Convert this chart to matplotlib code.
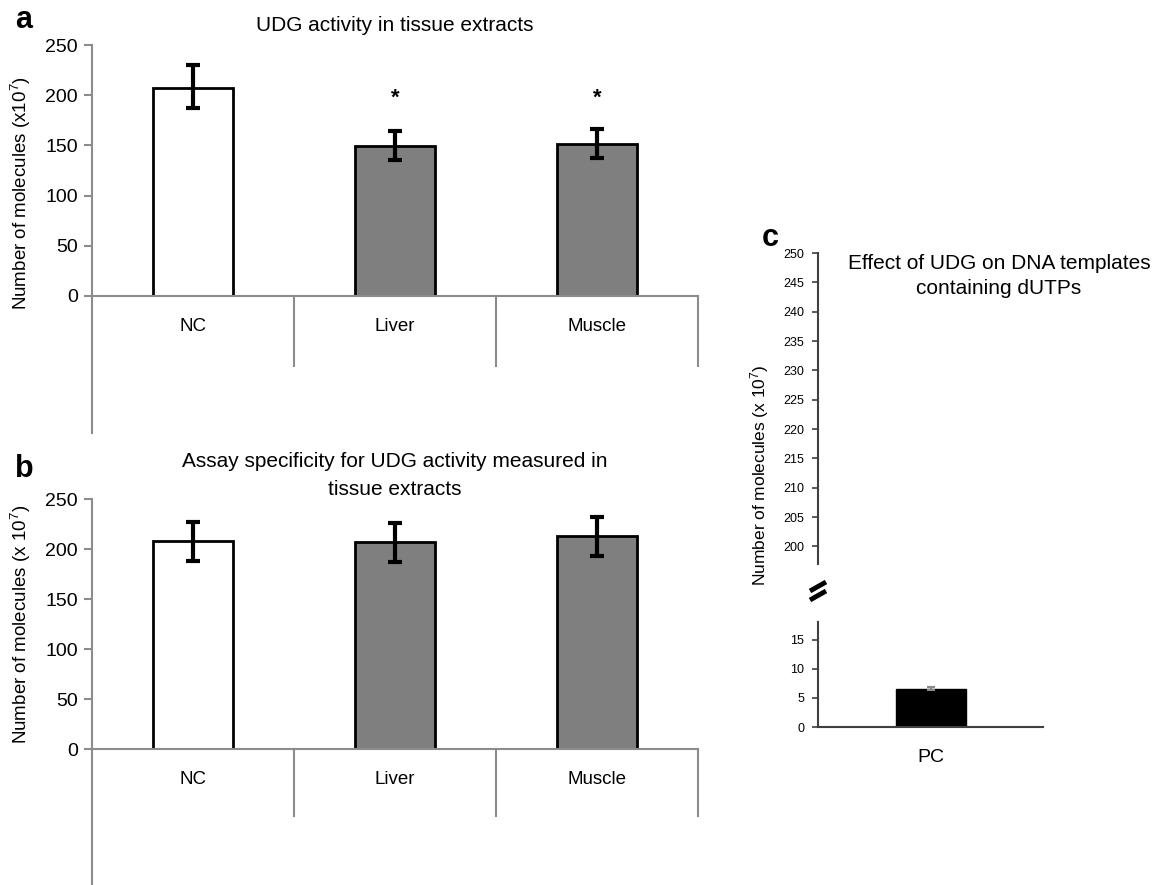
import numpy as np
import matplotlib
matplotlib.use('Agg')
import matplotlib.pyplot as plt
from matplotlib.lines import Line2D

plt.rcParams['font.family'] = ['Liberation Sans', 'DejaVu Sans']
plt.rcParams['mathtext.default'] = 'regular'

categories = ['NC', 'Liver', 'Muscle']

# panel a
a_values = [207, 149.5, 151.5]
a_err_low = [187, 135, 137]
a_err_high = [230, 164.5, 166.5]
a_signif = [False, True, True]

# panel b
b_values = [208, 207.5, 213.5]
b_err_low = [188, 187.5, 193]
b_err_high = [227, 226.5, 232]

# panel c
c_categories = ['PC']
c_values = [6.6]
c_err = [0.3]
c_upper_ticks = list(range(200, 251, 5))
c_lower_ticks = [0, 5, 10, 15]

bar_colors = ['white', '#7f7f7f', '#7f7f7f']
axis_grey = '#8c8c8c'

W, H = 1155, 885
fig = plt.figure(figsize=(W / 100, H / 100), dpi=100)


def px_axes(left, top, right, bottom):
    return fig.add_axes([left / W, 1 - bottom / H, (right - left) / W, (bottom - top) / H])


def category_panel(ax, values, lo, hi, div_drop, left_drop, ylabel, label_y):
    x = np.arange(len(categories))
    lo = np.array(values) - np.array(lo)
    hi = np.array(hi) - np.array(values)
    ax.bar(x, values, width=0.4, color=bar_colors, edgecolor='black', linewidth=2, zorder=2)
    ax.errorbar(x, values, yerr=[lo, hi], fmt='none', ecolor='black', elinewidth=3,
                capsize=5, capthick=3, zorder=3)
    ax.set_xlim(-0.5, len(categories) - 0.5)
    ax.set_ylim(0, 250)
    ax.set_yticks(range(0, 251, 50))
    ax.set_xticks(x)
    ax.set_xticklabels(categories, fontsize=13.5)
    ax.tick_params(axis='x', length=0, pad=16)
    ax.tick_params(axis='y', direction='out', length=6, width=1.5, color=axis_grey,
                   labelsize=14, pad=4)
    for s in ['top', 'right']:
        ax.spines[s].set_visible(False)
    for s in ['left', 'bottom']:
        ax.spines[s].set_color(axis_grey)
        ax.spines[s].set_linewidth(1.5)
    trans = ax.get_xaxis_transform()
    for b in np.arange(0.5, len(categories), 1.0):
        ax.add_line(Line2D([b, b], [0, -div_drop], transform=trans, color=axis_grey,
                           lw=1.5, clip_on=False))
    ax.add_line(Line2D([-0.5, -0.5], [0, -left_drop], transform=trans, color=axis_grey,
                       lw=1.5, clip_on=False))
    ax.set_ylabel(ylabel, fontsize=13.5)
    ax.yaxis.set_label_coords(-0.097, label_y)


# panel a
ax_a = px_axes(92, 45, 698, 296)
category_panel(ax_a, a_values, a_err_low, a_err_high, 70 / 251, 137 / 251,
               'Number of molecules (x10$^{7}$)', 0.41)
ax_a.set_title('UDG activity in tissue extracts', fontsize=15, pad=10)
for i, s in enumerate(a_signif):
    if s:
        ax_a.text(i, 197, '*', ha='center', va='center', fontsize=16, fontweight='bold')
fig.text(15 / W, 1 - 20 / H, 'a', fontsize=22, fontweight='bold', va='center')

# panel b
ax_b = px_axes(92, 499, 698, 749)
category_panel(ax_b, b_values, b_err_low, b_err_high, 67 / 250, 140 / 250,
               'Number of molecules (x 10$^{7}$)', 0.5)
ax_b.set_title('Assay specificity for UDG activity measured in\ntissue extracts',
               fontsize=15, pad=3, linespacing=1.6)
fig.text(15 / W, 1 - 469 / H, 'b', fontsize=22, fontweight='bold', va='center')

# panel c
c_dark = '#404040'
ax_cu = px_axes(818, 253, 1043, 564)
ax_cu.set_ylim(197, 250)
ax_cu.set_yticks(c_upper_ticks)
ax_cu.set_xticks([])
for s in ['top', 'right', 'bottom']:
    ax_cu.spines[s].set_visible(False)
ax_cu.spines['left'].set_color(c_dark)
ax_cu.spines['left'].set_linewidth(1.5)
ax_cu.tick_params(axis='y', direction='out', length=4, width=1.2, color=c_dark,
                  labelsize=9, pad=6)

ax_cl = px_axes(818, 622, 1043, 727)
xc = np.arange(len(c_categories))
ax_cl.bar(xc, c_values, width=0.62, color='black', edgecolor='black', zorder=2)
ax_cl.errorbar(xc, c_values, yerr=c_err, fmt='none', ecolor='#888888', elinewidth=1.5,
               capsize=3, capthick=1.5, zorder=3)
ax_cl.set_xlim(-1.0, 0.99)
ax_cl.set_ylim(0, 18.1)
ax_cl.set_yticks(c_lower_ticks)
ax_cl.set_xticks(xc)
ax_cl.set_xticklabels(c_categories, fontsize=14)
ax_cl.tick_params(axis='x', length=0, pad=16)
ax_cl.tick_params(axis='y', direction='out', length=4, width=1.2, color=c_dark,
                  labelsize=9, pad=6)
for s in ['top', 'right']:
    ax_cl.spines[s].set_visible(False)
for s in ['left', 'bottom']:
    ax_cl.spines[s].set_color(c_dark)
    ax_cl.spines[s].set_linewidth(1.5)

# break marks
for dy in (0, 9):
    fig.add_artist(Line2D([810 / W, 826 / W], [1 - (591 + dy) / H, 1 - (582 + dy) / H],
                          color='black', lw=3.5, solid_capstyle='butt'))

fig.text(999 / W, 1 - 276 / H, 'Effect of UDG on DNA templates\ncontaining dUTPs',
         ha='center', va='center', fontsize=15, linespacing=1.45)
fig.text(760 / W, 1 - 475 / H, 'Number of molecules (x 10$^{7}$)', rotation=90,
         ha='center', va='center', fontsize=12.5)
fig.text(762 / W, 1 - 238 / H, 'c', fontsize=22, fontweight='bold', va='center')

fig.savefig('out.png', dpi=100)
